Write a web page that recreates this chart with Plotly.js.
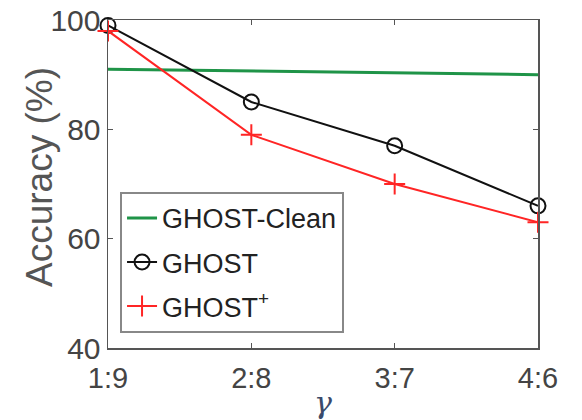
<!DOCTYPE html>
<html>
<head>
<meta charset="utf-8">
<script src="https://cdn.plot.ly/plotly-3.0.1.min.js"></script>
<style>html,body{margin:0;padding:0;background:#fff;}#chart{width:582px;height:420px;}</style>
</head>
<body>
<div id="chart"></div>
<script>
const categories = ["1:9", "2:8", "3:7", "4:6"];
const ghostClean = [91, 90.7, 90.3, 90];
const ghost = [99, 85, 77, 66];
const ghostPlus = [98, 79, 70, 63];
const seriesNames = ["GHOST-Clean", "GHOST", "GHOST<sup>+</sup>"];
const yTicks = [40, 60, 80, 100];
const yTitle = "Accuracy (%)";
const xTitle = "<i>γ</i>";

const font = "Arial, 'Liberation Sans', sans-serif";

const traces = [
  {x: categories, y: ghostClean, name: seriesNames[0], mode: "lines", legendgroup: "a",
   line: {color: "#1f9448", width: 3}, cliponaxis: false},
  {x: categories, y: ghost, name: seriesNames[1], mode: "lines+markers", legendgroup: "b",
   line: {color: "#111111", width: 2},
   marker: {symbol: "circle-open", size: 15, color: "#111111", line: {width: 2, color: "#111111"}},
   cliponaxis: false},
  {x: categories, y: ghostPlus, name: seriesNames[2], mode: "lines+markers", legendgroup: "c",
   line: {color: "#ff2525", width: 2},
   marker: {symbol: "cross-thin", size: 15, color: "#ff2525", line: {width: 2, color: "#ff2525"}},
   cliponaxis: false}
];

const layout = {
  width: 582, height: 420,
  margin: {l: 108, r: 44, t: 20, b: 72},
  paper_bgcolor: "#ffffff", plot_bgcolor: "#ffffff",
  font: {family: font, color: "#444444"},
  showlegend: true,
  legend: {
    x: 0.028, y: 0.476, xanchor: "left", yanchor: "top",
    bgcolor: "#ffffff", bordercolor: "#888888", borderwidth: 2,
    font: {family: font, size: 27, color: "#222222"},
    itemwidth: 30, tracegroupgap: 6, traceorder: "grouped"
  },
  xaxis: {
    type: "category", range: [0, 3],
    showline: true, linecolor: "#555555", linewidth: 1.5, mirror: "ticks",
    ticks: "inside", ticklen: 5, tickcolor: "#555555",
    showgrid: false, zeroline: false, ticklabelstandoff: 4,
    tickfont: {family: font, size: 29, color: "#444444"},
    title: {text: xTitle, font: {family: "'DejaVu Serif', serif", size: 30, color: "#3b4a6b"}, standoff: 0}
  },
  yaxis: {
    range: [40, 100], tickvals: yTicks,
    showline: true, linecolor: "#555555", linewidth: 1.5, mirror: "ticks",
    ticks: "inside", ticklen: 5, tickcolor: "#555555",
    showgrid: false, zeroline: false,
    tickfont: {family: font, size: 30, color: "#444444"}
  },
  annotations: [{
    text: yTitle, textangle: -90, showarrow: false,
    xref: "paper", yref: "paper", x: (39 - 108) / 430, y: (348 - 177) / 328,
    xanchor: "center", yanchor: "middle",
    font: {family: font, size: 37, color: "#555555"}
  }]
};

Plotly.newPlot("chart", traces, layout, {displayModeBar: false, staticPlot: true});
</script>
</body>
</html>
